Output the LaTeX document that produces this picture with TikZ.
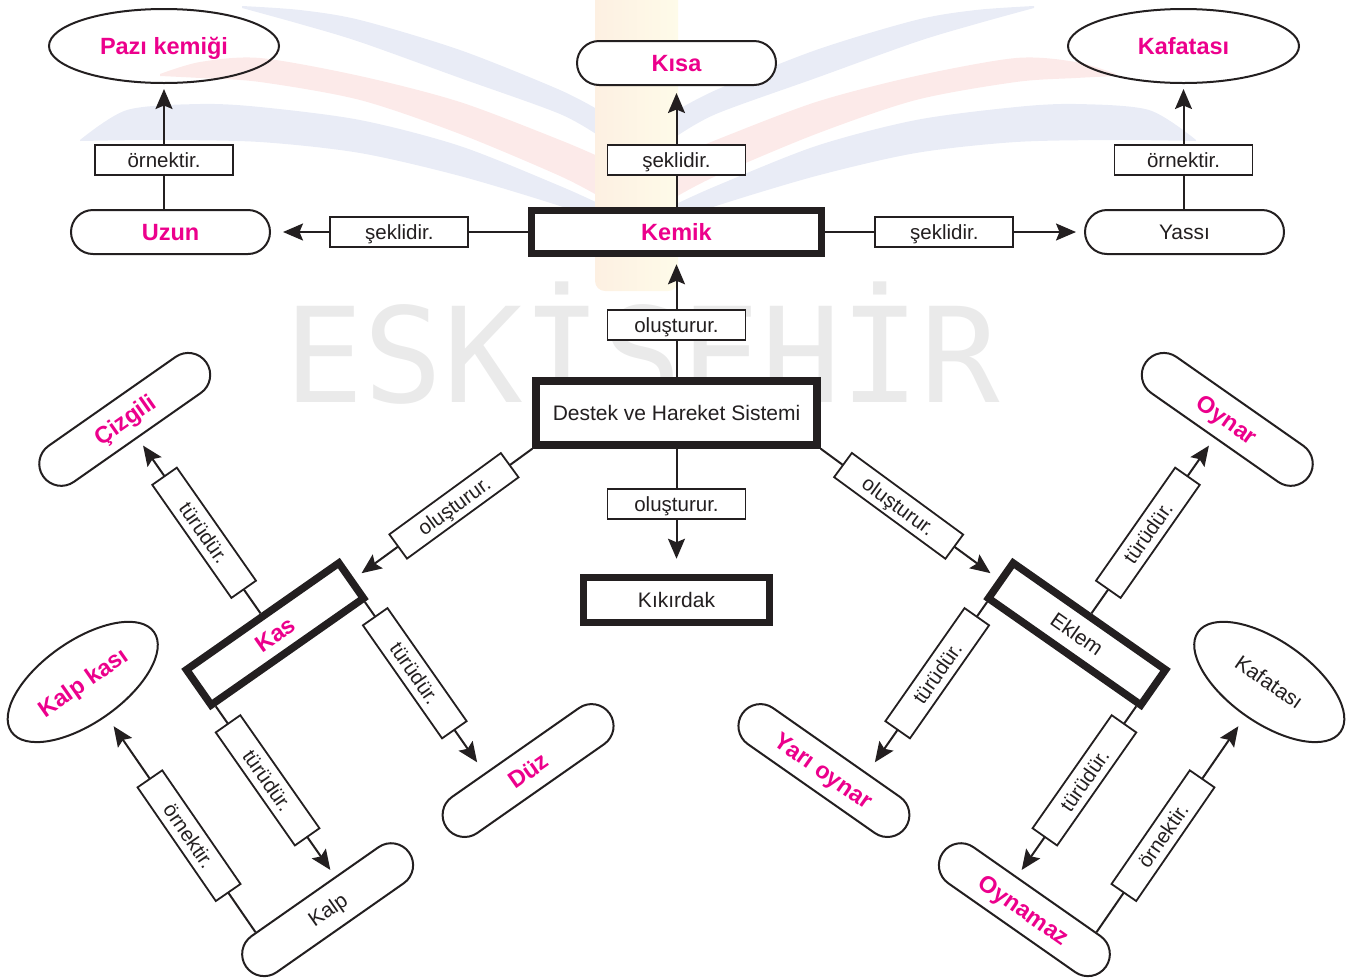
\documentclass[tikz,border=0pt]{standalone}
\usepackage{fontspec}
\setmainfont{Liberation Sans}
\newfontfamily\wmfont{DejaVu Sans Mono}
\usetikzlibrary{shapes.geometric,shapes.misc,arrows.meta,calc}
\definecolor{pinkc}{RGB}{236,0,140}
\definecolor{inkc}{RGB}{35,31,32}
\definecolor{wblue}{RGB}{233,236,246}
\definecolor{wpink}{RGB}{252,234,233}
\definecolor{wgray}{RGB}{234,234,234}
\definecolor{wyelA}{RGB}{253,240,226}
\definecolor{wyelB}{RGB}{254,251,233}
\tikzset{
  every node/.style={inner sep=0pt,text=inkc},
  conn/.style={draw=inkc,line width=2pt},
  arr/.style={conn,-{Stealth[length=20pt,width=17pt,inset=3.5pt]}},
  lab/.style={draw=inkc,fill=white,line width=1.8pt,minimum width=138pt,minimum height=30pt,
    font=\fontsize{20.5}{24}\selectfont,text height=14.7pt,text depth=0pt},
  stad/.style={rounded rectangle,draw=inkc,fill=white,line width=2pt,minimum width=199pt,minimum height=44pt},
  oval/.style={ellipse,draw=inkc,line width=2pt},
  thickbox/.style={rectangle,draw=inkc,fill=white,line width=7.5pt},
  hl/.style={text=pinkc,font=\bfseries\fontsize{23.5}{26}\selectfont,text height=16.8pt,text depth=0pt},
  plain/.style={font=\fontsize{21}{24}\selectfont,text height=15pt,text depth=0pt},
}
\newcommand{\wmBands}{%
  \fill[wblue] plot[smooth] coordinates {(242,6) (300,10) (360,20) (460,50) (560,90) (602,112)}
     -- plot[smooth] coordinates {(602,138) (560,114) (460,78) (360,42) (300,24) (242,8)} -- cycle;
  \fill[wpink] plot[smooth] coordinates {(160,74) (200,62) (260,58) (360,76) (460,102) (560,140) (602,158)}
     -- plot[smooth] coordinates {(602,198) (560,176) (460,134) (360,100) (260,82) (200,78) (160,76)} -- cycle;
  \fill[wblue] plot[smooth] coordinates {(80,140) (127,110) (200,104) (260,107) (360,120) (460,146) (560,186) (602,205)}
     -- plot[smooth] coordinates {(602,222) (560,206) (460,176) (360,153) (260,142) (160,140) (80,141)} -- cycle;
}
\begin{document}
\begin{tikzpicture}[x=1pt,y=-1pt]
\useasboundingbox (0,0) rectangle (1365,978);
% ---- watermark ----
\wmBands
\begin{scope}[xshift=1276pt,xscale=-1]\wmBands\end{scope}
\shade[left color=wyelA,right color=wyelB,rounded corners=10pt] (595,-20) rectangle (678,291);
\node[text=wgray,font=\wmfont\fontsize{132}{132}\selectfont,anchor=base] (wm) at (642,402) {ESKİŞEHİR};

% ---- top part ----
\node[oval,minimum width=230pt,minimum height=74pt,hl] (pazi) at (164,46) {Pazı kemiği};
\node[stad,hl] (kisa) at (676.5,63) {Kısa};
\node[oval,minimum width=231pt,minimum height=74pt,hl] (kaf1) at (1183.5,46) {Kafatası};
\node[stad,hl] (uzun) at (170.5,232) {Uzun};
\node[thickbox,minimum width=290pt,minimum height=43pt,hl] (kemik) at (676.5,232) {Kemik};
\node[stad,plain] (yassi) at (1184.5,232) {Yassı};
\node[thickbox,minimum width=281pt,minimum height=64pt,plain] (destek) at (676.5,413) {Destek ve Hareket Sistemi};
\node[thickbox,minimum width=186pt,minimum height=45pt,plain] (kik) at (676.5,600) {Kıkırdak};

\draw[arr,shorten >=5pt] (pazi.south |- uzun.north) -- node[lab,pos=0.39]{örnektir.} (pazi.south);
\draw[arr,shorten >=7pt] (kemik.north) -- node[lab,pos=0.385]{şeklidir.} (kisa.south);
\draw[arr,shorten >=5pt] (kaf1.south |- yassi.north) -- node[lab,pos=0.39]{örnektir.} (kaf1.south);
\draw[arr,shorten >=12pt] (kemik.west) -- node[lab,pos=0.5]{şeklidir.} (uzun.east);
\draw[arr,shorten >=8pt] (kemik.east) -- node[lab,pos=0.46]{şeklidir.} (yassi.west);
\draw[arr,shorten >=7pt] (destek.north) -- node[lab,pos=0.435]{oluşturur.} (kemik.south);
\draw[arr,shorten >=15pt] (destek.south) -- node[lab,pos=0.445]{oluşturur.} (kik.north);

% ---- left branch (Kas) ----
\begin{scope}[shift={(275,634)},rotate=35]
  \node[thickbox,rotate=35,minimum width=186pt,minimum height=43pt,hl] (kas) at (0,0) {Kas};
  \node[stad,rotate=35,hl] (cizgili) at (0,-262) {Çizgili};
  \node[stad,rotate=35,hl] (duz) at (129,257) {Düz};
  \node[stad,rotate=35,plain] (kalp) at (-115,256) {Kalp};
  \node[oval,rotate=35,minimum width=174pt,minimum height=82pt,hl] (kalpkasi) at (-185,-71) {Kalp kası};
\end{scope}
\draw[arr,shorten >=9pt] (destek.south west) -- node[lab,sloped,pos=0.44]{oluşturur.} (kas.east);
\draw[arr,shorten >=9pt] (kas.north) -- node[lab,sloped,pos=0.46]{türüdür.} (cizgili.south);
\draw[arr,shorten >=13pt] ($(kas.south)!92pt!(kas.south east)$) -- node[lab,sloped,pos=0.417]{türüdür.} ($(duz.north)!37pt!(duz.north west)$);
\draw[arr,shorten >=8pt] ($(kas.south)!90pt!(kas.south west)$) -- node[lab,sloped,pos=0.435]{türüdür.} ($(kalp.north)!25pt!(kalp.north east)$);
\draw[arr,shorten >=12pt] ($(kalp.north)!72pt!(kalp.north west)$) -- node[lab,sloped,pos=0.447]{örnektir.} (kalpkasi.south);

% ---- right branch (Eklem) ----
\begin{scope}[shift={(1077,634)},rotate=-35]
  \node[thickbox,rotate=-35,minimum width=186pt,minimum height=43pt,plain] (eklem) at (0,0) {Eklem};
  \node[stad,rotate=-35,hl] (oynar) at (0,-262) {Oynar};
  \node[stad,rotate=-35,hl] (yari) at (-129,257) {Yarı oynar};
  \node[stad,rotate=-35,hl] (oynamaz) at (115,256) {Oynamaz};
  \node[oval,rotate=-35,minimum width=174pt,minimum height=82pt,plain] (kaf2) at (185,-71) {Kafatası};
\end{scope}
\draw[arr,shorten >=9pt] (destek.south east) -- node[lab,sloped,pos=0.44]{oluşturur.} (eklem.west);
\draw[arr,shorten >=9pt] (eklem.north) -- node[lab,sloped,pos=0.46]{türüdür.} (oynar.south);
\draw[arr,shorten >=13pt] ($(eklem.south)!92pt!(eklem.south west)$) -- node[lab,sloped,pos=0.417]{türüdür.} ($(yari.north)!37pt!(yari.north east)$);
\draw[arr,shorten >=8pt] ($(eklem.south)!90pt!(eklem.south east)$) -- node[lab,sloped,pos=0.435]{türüdür.} ($(oynamaz.north)!25pt!(oynamaz.north west)$);
\draw[arr,shorten >=12pt] ($(oynamaz.north)!72pt!(oynamaz.north east)$) -- node[lab,sloped,pos=0.447]{örnektir.} (kaf2.south);
\end{tikzpicture}
\end{document}
